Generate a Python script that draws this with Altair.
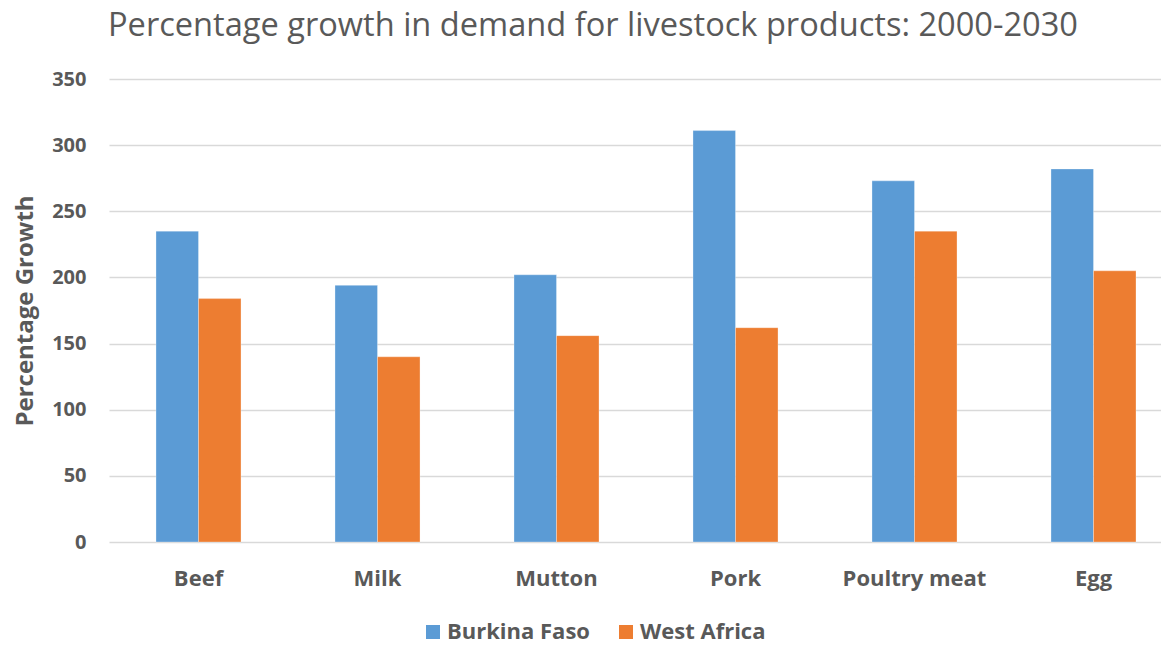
import altair as alt
import pandas as pd

categories = ["Beef", "Milk", "Mutton", "Pork", "Poultry meat", "Egg"]
burkina_faso = [235, 194, 202, 311, 273, 282]
west_africa = [184, 140, 156, 162, 235, 205]
series_names = ["Burkina Faso", "West Africa"]
colors = ["#5B9BD5", "#ED7D31"]
y_ticks = [0, 50, 100, 150, 200, 250, 300, 350]

rows = []
for c, b, w in zip(categories, burkina_faso, west_africa):
    rows.append({"Product": c, "Region": series_names[0], "Growth": b})
    rows.append({"Product": c, "Region": series_names[1], "Growth": w})
df = pd.DataFrame(rows)

FONT = "Open Sans"
GRAY = "#595959"

chart = alt.Chart(df).mark_bar(stroke="white", strokeWidth=0.6, strokeOpacity=0.5).encode(
    x=alt.X("Product:N", sort=categories,
            scale=alt.Scale(range=[0, 1074], paddingInner=0.525, paddingOuter=0.2625),
            axis=alt.Axis(title=None, labelAngle=0, ticks=False, domain=False,
                          labelFont=FONT, labelFontSize=22, labelFontWeight="bold",
                          labelColor=GRAY, labelPadding=26)),
    xOffset=alt.XOffset("Region:N", sort=series_names, scale=alt.Scale(paddingInner=0, paddingOuter=0)),
    y=alt.Y("Growth:Q", scale=alt.Scale(domain=[0, 350], nice=False),
            axis=alt.Axis(values=y_ticks, title="Percentage Growth", ticks=False, domain=False,
                          labelFont=FONT, labelFontSize=20, labelFontWeight="bold",
                          labelColor=GRAY, labelPadding=23,
                          titleFont=FONT, titleFontSize=24, titleFontWeight="bold",
                          titleColor=GRAY, titlePadding=14,
                          gridColor="#D9D9D9", gridWidth=1.5)),
    color=alt.Color("Region:N", sort=series_names,
                    scale=alt.Scale(domain=series_names, range=colors),
                    legend=alt.Legend(title=None, orient="none", direction="horizontal",
                                      legendX=313, legendY=542,
                                      symbolType="square", symbolSize=196, symbolStrokeWidth=0,
                                      labelFont=FONT, labelFontSize=22, labelFontWeight="bold",
                                      labelColor=GRAY, columnPadding=25, labelOffset=3)),
).properties(
    width=1052,
    height=463,
    autosize=alt.AutoSizeParams(type="none"),
    padding={"left": 101, "top": 71, "right": 0, "bottom": 103},
    title=alt.Title("Percentage growth in demand for livestock products: 2000-2030",
                    font=FONT, fontSize=32.6, fontWeight="normal", color=GRAY,
                    anchor="start", frame="group", dx=-1, offset=26),
).configure_view(stroke=None).configure_axisX(grid=False)

chart.save("out.html", embed_options={"renderer": "svg", "actions": False})
